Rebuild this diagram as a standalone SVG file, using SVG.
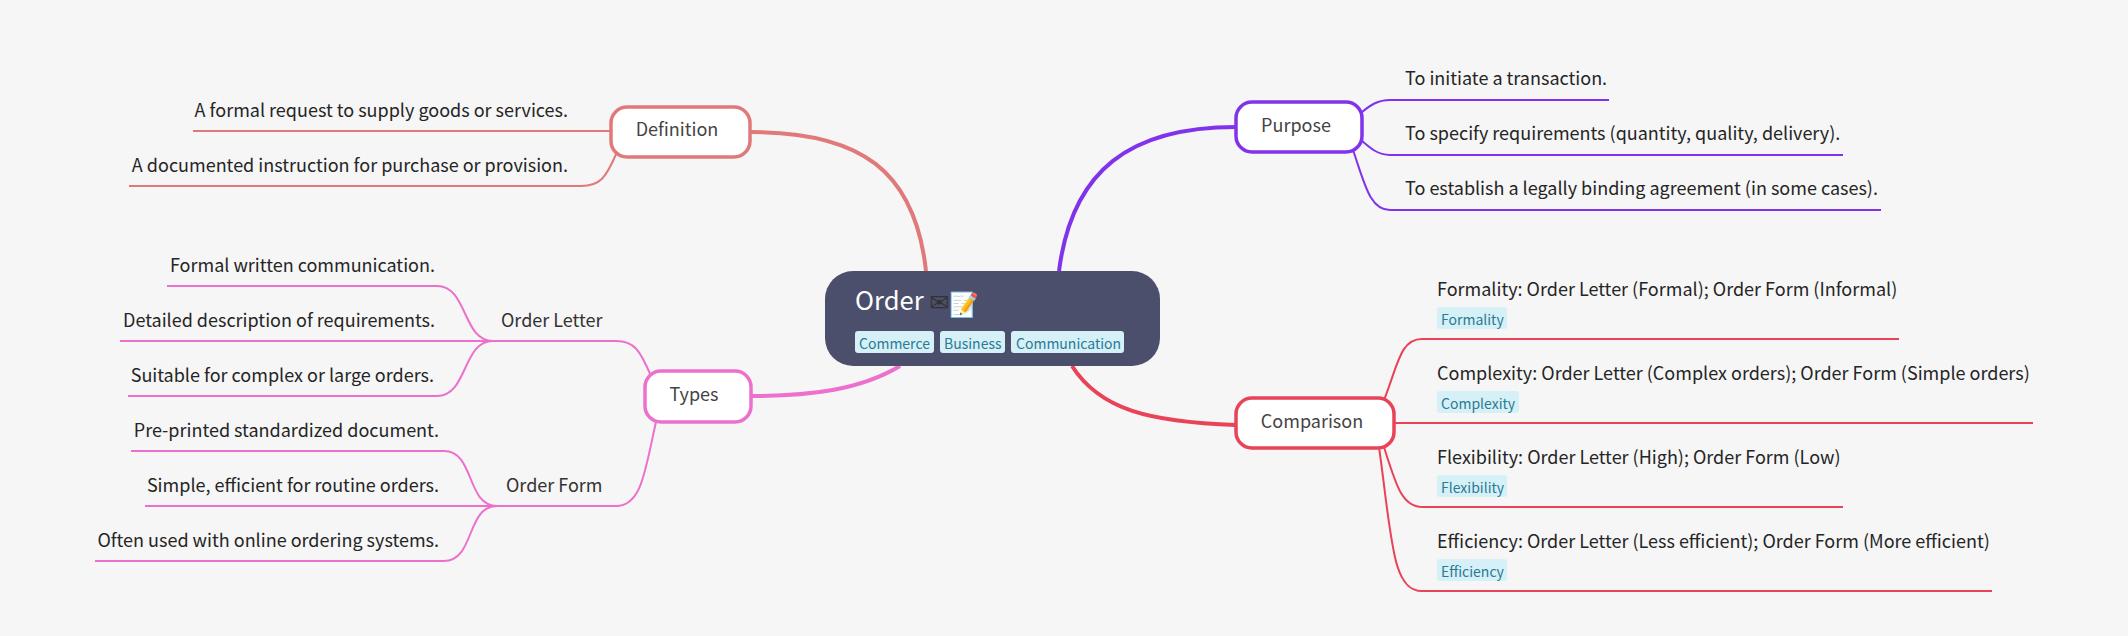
<svg xmlns="http://www.w3.org/2000/svg" width="2128" height="636" viewBox="0 0 2128 636">
<style>
text{font-family:"Noto Sans CJK SC","Noto Sans",sans-serif}
.leaf{font-size:18px;fill:#252525}
.end{text-anchor:end}
.sub{font-size:18px;fill:#333}
.branch{font-size:18px;fill:#444;text-anchor:middle}
.tag{font-size:14px;fill:#2a7a94}
.tagbg{fill:#d5f0f7}
.box{fill:#fff;stroke-width:3.5}
.l{fill:none;stroke-width:2}
.m{fill:none;stroke-width:4}
.def{stroke:#e07a7a}.pur{stroke:#8133ec}.com{stroke:#e84357}.typ{stroke:#ec70cc}
</style>
<rect width="2128" height="636" fill="#f6f6f6"/>
<g id="connectors">
<path class="m def" d="M751 132C860 132 915 170 926 271"/>
<path class="m pur" d="M1236 127C1130 127 1072 170 1059 271"/>
<path class="m com" d="M1236 425C1150 422 1100 410 1072 366"/>
<path class="m typ" d="M751 396C810 396 860 390 900 366"/>
<path class="l def" d="M193 131H612"/>
<path class="l def" d="M129 186H581C600 186 606 178 617 152"/>
<path class="l pur" d="M1361 113C1370 105 1378 100 1390 100H1609"/>
<path class="l pur" d="M1361 140C1370 148 1378 155 1390 155H1843"/>
<path class="l pur" d="M1353 150C1365 185 1370 210 1390 210H1881"/>
<path class="l com" d="M1384 400C1398 365 1400 339 1422 339H1899"/>
<path class="l com" d="M1392 423H2033"/>
<path class="l com" d="M1384 447C1396 485 1402 507 1422 507H1843"/>
<path class="l com" d="M1379 447C1392 540 1392 591 1422 591H1992"/>
<path class="l typ" d="M651 376C640 350 634 341 616 341H120"/>
<path class="l typ" d="M656 422C645 470 642 506 616 506H145"/>
<path class="l typ" d="M167 286H437C468 286 462 341 493 341"/>
<path class="l typ" d="M128 396H437C468 396 462 341 493 341"/>
<path class="l typ" d="M131 451H444C475 451 466 506 497 506"/>
<path class="l typ" d="M95 561H444C475 561 466 506 497 506"/>
</g>
<g id="root">
<rect x="825" y="271" width="335" height="95" rx="28" fill="#4c4f6b"/>
<text x="855" y="310" font-size="25.6" fill="#fff">Order</text>
<text x="929" y="311" font-size="24" fill="#333" style="font-family:'DejaVu Sans',sans-serif">✉</text>
<text x="949" y="313" font-size="24" style="font-family:'Noto Color Emoji','Noto Sans CJK SC',sans-serif">📝</text>
<rect class="tagbg" x="855" y="331" width="79" height="22" rx="3"/><text class="tag" x="859" y="349">Commerce</text>
<rect class="tagbg" x="940" y="331" width="65" height="22" rx="3"/><text class="tag" x="944" y="349">Business</text>
<rect class="tagbg" x="1011" y="331" width="113" height="22" rx="3"/><text class="tag" x="1016" y="349">Communication</text>
</g>
<g id="definition">
<rect class="box def" x="611" y="107" width="139" height="50" rx="16"/>
<text class="branch" x="677" y="136">Definition</text>
<text class="leaf end" x="568" y="117">A formal request to supply goods or services.</text>
<text class="leaf end" x="568" y="172">A documented instruction for purchase or provision.</text>
</g>
<g id="purpose">
<rect class="box pur" x="1236" y="102" width="126" height="50" rx="16"/>
<text class="branch" x="1296" y="132">Purpose</text>
<text class="leaf" x="1405" y="85">To initiate a transaction.</text>
<text class="leaf" x="1405" y="140">To specify requirements (quantity, quality, delivery).</text>
<text class="leaf" x="1405" y="195">To establish a legally binding agreement (in some cases).</text>
</g>
<g id="comparison">
<rect class="box com" x="1236" y="398" width="158" height="50" rx="16"/>
<text class="branch" x="1312" y="428">Comparison</text>
<text class="leaf" x="1437" y="296">Formality: Order Letter (Formal); Order Form (Informal)</text>
<rect class="tagbg" x="1437" y="307" width="70" height="22" rx="3"/><text class="tag" x="1441" y="325">Formality</text>
<text class="leaf" x="1437" y="380">Complexity: Order Letter (Complex orders); Order Form (Simple orders)</text>
<rect class="tagbg" x="1437" y="391" width="82" height="22" rx="3"/><text class="tag" x="1441" y="409">Complexity</text>
<text class="leaf" x="1437" y="464">Flexibility: Order Letter (High); Order Form (Low)</text>
<rect class="tagbg" x="1437" y="475" width="70" height="22" rx="3"/><text class="tag" x="1441" y="493">Flexibility</text>
<text class="leaf" x="1437" y="548">Efficiency: Order Letter (Less efficient); Order Form (More efficient)</text>
<rect class="tagbg" x="1437" y="559" width="70" height="22" rx="3"/><text class="tag" x="1441" y="577">Efficiency</text>
</g>
<g id="types">
<rect class="box typ" x="645" y="371" width="106" height="51" rx="16"/>
<text class="branch" x="694" y="401">Types</text>
<text class="sub" x="501" y="327">Order Letter</text>
<text class="sub" x="506" y="492">Order Form</text>
<text class="leaf end" x="435" y="272">Formal written communication.</text>
<text class="leaf end" x="435" y="327">Detailed description of requirements.</text>
<text class="leaf end" x="434" y="382">Suitable for complex or large orders.</text>
<text class="leaf end" x="439" y="437">Pre-printed standardized document.</text>
<text class="leaf end" x="439" y="492">Simple, efficient for routine orders.</text>
<text class="leaf end" x="439" y="547">Often used with online ordering systems.</text>
</g>
</svg>
